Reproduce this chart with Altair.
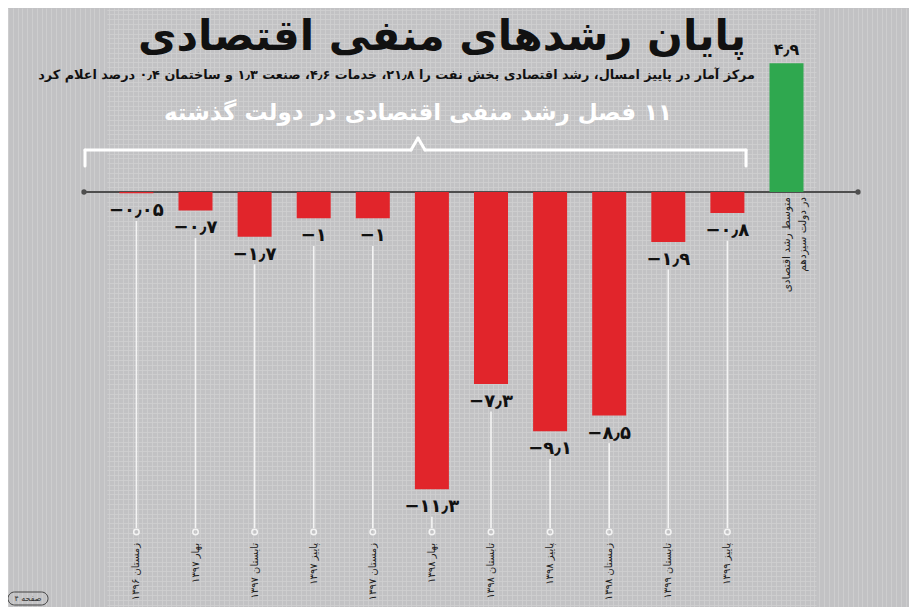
import altair as alt
import pandas as pd
import numpy as np

# ---------------- data ----------------
RLM = "\u200f"
title_text = "پایان رشدهای منفی اقتصادی"
subtitle_text = "مرکز آمار در پاییز امسال، رشد اقتصادی بخش نفت را ۲۱٫۸، خدمات ۴٫۶، صنعت ۱٫۳ و ساختمان ۰٫۴ درصد اعلام کرد"
bracket_text = "۱۱ فصل رشد منفی اقتصادی در دولت گذشته"
page_text = "صفحه ۴"

seasons = ["زمستان ۱۳۹۶", "بهار ۱۳۹۷", "تابستان ۱۳۹۷", "پاییز ۱۳۹۷", "زمستان ۱۳۹۷",
           "بهار ۱۳۹۸", "تابستان ۱۳۹۸", "پاییز ۱۳۹۸", "زمستان ۱۳۹۸", "تابستان ۱۳۹۹", "پاییز ۱۳۹۹"]
growth = [-0.05, -0.7, -1.7, -1, -1, -11.3, -7.3, -9.1, -8.5, -1.9, -0.8]
avg_lines = ["متوسط رشد اقتصادی", "در دولت سیزدهم"]
avg_key = "avg"
avg_growth = 4.9

FA = str.maketrans("0123456789.", "۰۱۲۳۴۵۶۷۸۹٫")


def fa_num(v):
    s = f"{abs(v):g}".translate(FA)
    return ("−" + s) if v < 0 else s


cats = seasons + [avg_key]
vals = growth + [avg_growth]
df = pd.DataFrame({
    "cat": cats,
    "value": vals,
    "kind": ["neg"] * len(seasons) + ["pos"],
    "label": [fa_num(v) for v in vals],
    "season": [RLM + s for s in seasons] + [""],
})
one = pd.DataFrame({"k": [0]})

# ---------------- styling ----------------
FONT = "DejaVu Sans"
BG = "#c2c2c4"
GRID = "#cfcfd1"
RED = "#e1252b"
GREEN = "#2fa84f"
WHITE = "#f4f4f4"
W, H = 901, 599
PX_PER_UNIT = 26.3
ZERO_Y = 184
y_hi = ZERO_Y / PX_PER_UNIT
y_lo = -(H - ZERO_Y) / PX_PER_UNIT
grid_step_units = 4.8 / PX_PER_UNIT
y_grid_vals = [float(v) for v in np.concatenate([
    -np.arange(0, -y_lo, grid_step_units)[::-1], np.arange(grid_step_units, y_hi, grid_step_units)])]
x_grid_vals = [float(v) for v in np.arange(0, W, 4.8)]

xscale = alt.Scale(domain=cats, range=[98.85, 808.05], paddingInner=0.4247, paddingOuter=0.21235)
yscale = alt.Scale(domain=[y_lo, y_hi], nice=False, zero=False)
yaxis = alt.Axis(values=y_grid_vals, grid=True, gridColor=GRID, gridWidth=0.8, labels=False,
                 ticks=False, domain=False, title=None)


def X():
    return alt.X("cat:N", scale=xscale, axis=None, sort=cats)


def Y(field=None, datum=None):
    if datum is not None:
        return alt.Y(datum=datum, scale=yscale, axis=yaxis)
    return alt.Y(field, scale=yscale, axis=yaxis)


base = alt.Chart(df)
neg = "datum.kind == 'neg'"
pos = "datum.kind == 'pos'"

bars = base.mark_bar().encode(
    x=X(), y=Y("value:Q"), y2=alt.datum(0),
    color=alt.Color("kind:N", scale=alt.Scale(domain=["neg", "pos"], range=[RED, GREEN]), legend=None),
)

neg_labels = base.transform_filter(neg).mark_text(
    dy=18, fontSize=18, fontWeight="bold", font=FONT, color="#111", baseline="middle"
).encode(x=X(), y=Y("value:Q"), text="label:N")

pos_labels = base.transform_filter(pos).mark_text(
    dy=-13, fontSize=16, fontWeight="bold", font=FONT, color="#111", baseline="middle"
).encode(x=X(), y=Y("value:Q"), text="label:N")

stems = base.transform_filter(neg).transform_calculate(stem="datum.value - 1.05").mark_rule(
    color=WHITE, strokeWidth=1.6
).encode(x=X(), y=Y("stem:Q"), y2=alt.value(520))

rings = base.transform_filter(neg).mark_point(
    shape="circle", filled=False, color=WHITE, size=30, strokeWidth=1.5, opacity=1
).encode(x=X(), y=alt.value(524))

season_labels = base.transform_filter(neg).mark_text(
    angle=270, align="right", baseline="middle", fontSize=10, font=FONT, color="#1c1c1c"
).encode(x=X(), y=alt.value(535), text="season:N")

avg_label = base.transform_filter(pos).mark_text(
    angle=270, align="right", baseline="middle", fontSize=10.5, lineHeight=16, font=FONT, color="#222"
).encode(x=X(), y=alt.value(189), text=alt.value([RLM + s for s in avg_lines]))

axis_line = alt.Chart(one).mark_rule(color="#4e4e4e", strokeWidth=2).encode(
    x=alt.value(76), x2=alt.value(850), y=Y(datum=0))
axis_end_l = alt.Chart(one).mark_point(shape="circle", filled=True, color="#4e4e4e", size=28, opacity=1).encode(
    x=alt.value(76), y=Y(datum=0))
axis_end_r = alt.Chart(one).mark_point(shape="circle", filled=True, color="#4e4e4e", size=28, opacity=1).encode(
    x=alt.value(850), y=Y(datum=0))

title = alt.Chart(one).mark_text(
    fontSize=42, fontWeight="bold", font=FONT, color="#111", align="center", baseline="middle"
).encode(x=alt.value(434), y=alt.value(29), text=alt.value(RLM + title_text))

subtitle = alt.Chart(one).mark_text(
    fontSize=12.8, fontWeight="bold", font=FONT, color="#111", align="right", baseline="middle"
).encode(x=alt.value(747), y=alt.value(67), text=alt.value(RLM + subtitle_text))

bracket_label = alt.Chart(one).mark_text(
    fontSize=23, fontWeight="bold", font=FONT, color="#ffffff", align="center", baseline="middle"
).encode(x=alt.value(410), y=alt.value(105), text=alt.value(RLM + bracket_text))


def seg(x1, y1, x2, y2):
    return alt.Chart(one).mark_rule(color="#ffffff", strokeWidth=3, strokeCap="round").encode(
        x=alt.value(x1), y=alt.value(y1), x2=alt.value(x2), y2=alt.value(y2))


bracket = [
    seg(77, 142, 77, 158),
    seg(77, 142, 403, 142),
    seg(403, 142, 410, 130),
    seg(410, 130, 417, 142),
    seg(417, 142, 738, 142),
    seg(738, 142, 738, 158),
]

page_box = alt.Chart(one).mark_rect(
    fill=None, stroke="#444", strokeWidth=1, cornerRadius=7
).encode(x=alt.value(0), x2=alt.value(40), y=alt.value(584), y2=alt.value(597))
page_lbl = alt.Chart(one).mark_text(fontSize=8, font=FONT, color="#333", align="center", baseline="middle").encode(
    x=alt.value(20), y=alt.value(590.5), text=alt.value(RLM + page_text))

main = alt.layer(
    axis_line, axis_end_l, axis_end_r,
    bars, stems, rings, neg_labels, pos_labels, season_labels, avg_label,
    title, subtitle, bracket_label, *bracket, page_box, page_lbl,
)

grid_layer = alt.Chart(one).mark_point(opacity=0).encode(
    x=alt.X("k:Q", scale=alt.Scale(domain=[0, W], range=[0, W], nice=False, zero=False),
            axis=alt.Axis(values=x_grid_vals, grid=True, gridColor=GRID, gridWidth=0.8, labels=False,
                          ticks=False, domain=False, title=None, orient="bottom")),
)

chart = alt.layer(grid_layer, main).resolve_scale(x="independent").properties(
    width=W, height=H, autosize=alt.AutoSizeParams(type="none"), padding=0, background=BG
).configure_view(stroke=None)

chart.save("out.html", embed_options={"renderer": "svg", "actions": False})
